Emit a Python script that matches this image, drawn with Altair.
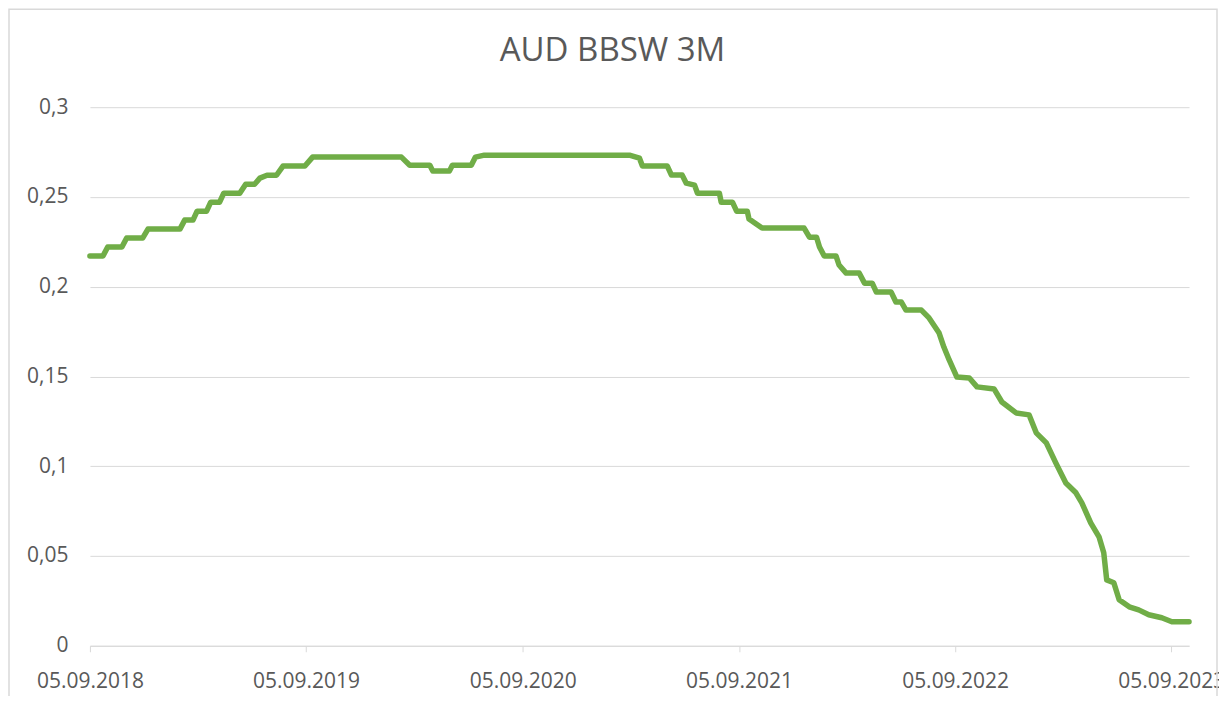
import altair as alt
import pandas as pd

dates = [
    "2018-09-05", "2018-09-27", "2018-10-05", "2018-10-29", "2018-11-06", "2018-12-03",
    "2018-12-12", "2019-02-04", "2019-02-12", "2019-02-26", "2019-03-05", "2019-03-21",
    "2019-03-28", "2019-04-12", "2019-04-19", "2019-05-16", "2019-05-26", "2019-06-10",
    "2019-06-19", "2019-07-01", "2019-07-17", "2019-07-28", "2019-09-03", "2019-09-16",
    "2020-02-13", "2020-02-27", "2020-04-01", "2020-04-06", "2020-05-04", "2020-05-09",
    "2020-06-10", "2020-06-17", "2020-07-02", "2021-03-04", "2021-03-21", "2021-03-26",
    "2021-05-07", "2021-05-14", "2021-06-01", "2021-06-08", "2021-06-22", "2021-06-27",
    "2021-08-03", "2021-08-06", "2021-08-25", "2021-09-01", "2021-09-19", "2021-09-22",
    "2021-10-14", "2021-12-24", "2022-01-02", "2022-01-14", "2022-01-19", "2022-01-27",
    "2022-02-16", "2022-02-21", "2022-03-05", "2022-03-27", "2022-04-05", "2022-04-18",
    "2022-04-25", "2022-05-20", "2022-05-28", "2022-06-06", "2022-06-14", "2022-07-10",
    "2022-07-23", "2022-08-09", "2022-08-17", "2022-08-26", "2022-09-08", "2022-09-29",
    "2022-10-12", "2022-11-10", "2022-11-23", "2022-12-17", "2023-01-08", "2023-01-20",
    "2023-02-06", "2023-02-22", "2023-03-11", "2023-03-28", "2023-04-07", "2023-04-22",
    "2023-05-06", "2023-05-14", "2023-05-19", "2023-05-31", "2023-06-09", "2023-06-26",
    "2023-07-12", "2023-07-29", "2023-08-20", "2023-09-06", "2023-10-05",
]
values = [
    0.2171, 0.2171, 0.2221, 0.2221, 0.2271, 0.2271,
    0.2321, 0.2321, 0.2371, 0.2371, 0.2421, 0.2421,
    0.2471, 0.2471, 0.2521, 0.2521, 0.2571, 0.2571,
    0.2605, 0.2621, 0.2621, 0.2672, 0.2672, 0.2722,
    0.2722, 0.2677, 0.2677, 0.2644, 0.2644, 0.2677,
    0.2677, 0.2722, 0.2733, 0.2733, 0.2716, 0.2672,
    0.2672, 0.2622, 0.2622, 0.2577, 0.2566, 0.2521,
    0.2521, 0.2471, 0.2471, 0.2421, 0.2421, 0.2377,
    0.2327, 0.2327, 0.2276, 0.2276, 0.2221, 0.2171,
    0.2171, 0.2121, 0.2076, 0.2076, 0.2020, 0.2020,
    0.1970, 0.1970, 0.1915, 0.1915, 0.1870, 0.1870,
    0.1826, 0.1742, 0.1664, 0.1592, 0.1497, 0.1492,
    0.1442, 0.1430, 0.1358, 0.1297, 0.1286, 0.1186,
    0.1130, 0.1019, 0.0907, 0.0852, 0.0796, 0.0685,
    0.0607, 0.0518, 0.0367, 0.0351, 0.0256, 0.0217,
    0.0200, 0.0173, 0.0156, 0.0134, 0.0134,
]
tick_years = [2018, 2019, 2020, 2021, 2022, 2023]
y_ticks = [0, 0.05, 0.1, 0.15, 0.2, 0.25, 0.3]
title_text = "AUD BBSW 3M"

df = pd.DataFrame({"date": dates, "value": values})

FONT = "Open Sans"
GREY = "#595959"
LINE = "#d9d9d9"

x_enc = alt.X(
    "date:T",
    scale=alt.Scale(
        type="utc",
        domain=[alt.DateTime(year=2018, month=9, date=5, utc=True),
                alt.DateTime(year=2023, month=10, date=5, utc=True)],
    ),
    axis=alt.Axis(
        values=[alt.DateTime(year=y, month=9, date=5, utc=True) for y in tick_years],
        labelExpr="utcFormat(datum.value, '%d.%m.%Y')",
        labelFlush=False,
        labelOverlap=False,
        grid=False,
        domainColor=LINE,
        domainWidth=1,
        tickColor=LINE,
        tickSize=6,
        labelPadding=19,
        labelFontSize=21,
        labelFont=FONT,
        labelColor=GREY,
        title=None,
    ),
)
y_enc = alt.Y(
    "value:Q",
    scale=alt.Scale(domain=[0, 0.3], nice=False),
    axis=alt.Axis(
        values=y_ticks,
        labelExpr="replace(format(datum.value, '~g'), '.', ',')",
        grid=True,
        gridColor=LINE,
        gridWidth=1,
        domain=False,
        ticks=False,
        labelPadding=22,
        labelFontSize=21,
        labelFont=FONT,
        labelColor=GREY,
        title=None,
    ),
)

line = alt.Chart(df).mark_line(
    color="#70AD47", strokeWidth=5.5, strokeJoin="round", strokeCap="round"
).encode(x=x_enc, y=y_enc)

border = alt.Chart(pd.DataFrame({"a": [0]})).mark_rect(
    filled=False, stroke=LINE, strokeWidth=1.5
).encode(
    x=alt.value(-81), x2=alt.value(1128), y=alt.value(-98), y2=alt.value(640)
)

chart = alt.layer(border, line).properties(
    width=1100,
    height=539,
    autosize=alt.AutoSizeParams(type="none"),
    padding={"left": 82, "top": 99, "right": 30, "bottom": 50},
    title=alt.TitleParams(
        title_text, font=FONT, fontSize=33, fontWeight="normal", color=GREY,
        anchor="middle", dx=-27, dy=82, offset=22,
    ),
).configure_view(stroke=None)

chart.save("out.html", embed_options={"renderer": "svg", "actions": False})
